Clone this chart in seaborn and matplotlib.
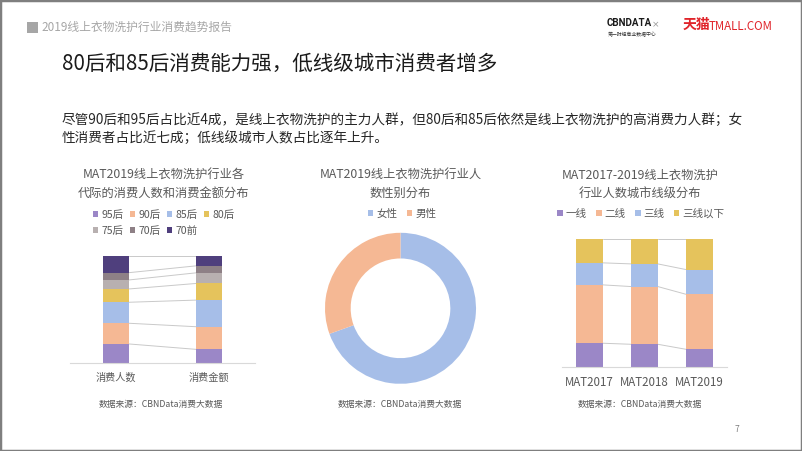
import matplotlib
matplotlib.use('Agg')
import matplotlib.pyplot as plt
import seaborn as sns
import numpy as np
import pandas as pd
from matplotlib.patches import Rectangle, Patch

sns.set_theme(style='white')
plt.rcParams['font.family'] = ['Noto Sans CJK SC', 'DejaVu Sans']

W, H = 802, 451

# ---------------- data ----------------
gen_labels = ['95后', '90后', '85后', '80后', '75后', '70后', '70前']
gen_cats = ['消费人数', '消费金额']
gen_people = [18.0, 19.3, 19.6, 12.4, 8.4, 6.8, 15.5]
gen_amount = [13.0, 21.1, 24.8, 15.5, 9.9, 6.5, 9.2]
gen_colors = ['#9B87C7', '#F5B894', '#A6BEE8', '#E5C35C', '#B8B0B0', '#8E8086', '#4F3F7D']

gender_labels = ['女性', '男性']
gender_values = [69.5, 30.5]
gender_colors = ['#A6BEE8', '#F5B894']

tier_labels = ['一线', '二线', '三线', '三线以下']
tier_cats = ['MAT2017', 'MAT2018', 'MAT2019']
tier_2017 = [18.8, 45.6, 17.2, 18.4]
tier_2018 = [18.0, 45.1, 17.7, 19.2]
tier_2019 = [14.1, 43.0, 19.3, 23.6]
tier_colors = ['#9B87C7', '#F5B894', '#A6BEE8', '#E5C35C']

title_text = '80后和85后消费能力强，低线级城市消费者增多'
header_text = '2019线上衣物洗护行业消费趋势报告'
body_lines = ['尽管90后和95后占比近4成，是线上衣物洗护的主力人群，但80后和85后依然是线上衣物洗护的高消费力人群；女',
              '性消费者占比近七成；低线级城市人数占比逐年上升。']
source_text = '数据来源：CBNData消费大数据'

GRAY = '#595959'

fig = plt.figure(figsize=(W / 100, H / 100), dpi=100)
fig.patch.set_facecolor('white')


def px_axes(x0, y0, x1, y1):
    return fig.add_axes([x0 / W, 1 - y1 / H, (x1 - x0) / W, (y1 - y0) / H])


def ftext(x, y, s, **kw):
    kw.setdefault('va', 'center')
    return fig.text(x / W, 1 - y / H, s, **kw)


def stacked(ax, cats, rows, colors, width):
    arr = np.array(rows, dtype=float)
    cum = np.cumsum(arr, axis=1)
    for k in range(arr.shape[1] - 1, -1, -1):
        df = pd.DataFrame({'cat': cats, 'v': cum[:, k]})
        sns.barplot(data=df, x='cat', y='v', order=cats, color=colors[k], width=width,
                    saturation=1, errorbar=None, linewidth=0, ax=ax, zorder=2)
    for k in range(arr.shape[1]):
        for i in range(len(cats) - 1):
            ax.plot([i + width / 2, i + 1 - width / 2], [cum[i, k], cum[i + 1, k]],
                    color='#c9c9c9', lw=0.7, zorder=1)
    ax.set_ylim(0, 100)
    ax.set_xlim(-0.5, len(cats) - 0.5)
    ax.set_xlabel('')
    ax.set_ylabel('')
    ax.set_yticks([])
    for s in ['top', 'right', 'left']:
        ax.spines[s].set_visible(False)
    ax.spines['bottom'].set_color('#d9d9d9')
    ax.spines['bottom'].set_linewidth(0.8)
    ax.set_facecolor('none')


# ---------------- frame & header ----------------
fig.patches.append(Rectangle((0, 0), 1, 1, transform=fig.transFigure, fill=False,
                             edgecolor='#7f7f7f', lw=2.5, zorder=10))
fig.patches.append(Rectangle((27 / W, 1 - 33 / H), 11 / W, 11 / H, transform=fig.transFigure,
                             facecolor='#a6a6a6', edgecolor='none'))
ftext(41.5, 27.5, header_text, fontsize=8.5, color='#a6a6a6', ha='left')

# logo
ftext(607, 23.5, 'CBNDATA', fontsize=7, fontweight='bold', color='#1a1a1a', ha='left',
      family=['Roboto', 'DejaVu Sans'])
ftext(608, 34.5, '第一财经商业数据中心', fontsize=3.5, color='#333333', ha='left')
ftext(656, 25, '×', fontsize=6.5, color='#9a9a9a', ha='center', family=['DejaVu Sans'])
ftext(683, 24.5, '天猫', fontsize=10, fontweight='bold', color='#E0242A', ha='left')
ftext(709, 26, 'TMALL.COM', fontsize=8.3, color='#E0242A', ha='left')

# title & body
ftext(62, 64, title_text, fontsize=14.8, color='#1a1a1a', ha='left')
ftext(62, 120, body_lines[0], fontsize=9.8, color='#262626', ha='left')
ftext(62, 137.7, body_lines[1], fontsize=9.8, color='#262626', ha='left')

# ---------------- chart 1: generations ----------------
ax1 = px_axes(70, 256, 255.2, 363.3)
stacked(ax1, gen_cats, [gen_people, gen_amount], gen_colors, 0.28)
ax1.tick_params(axis='x', length=0, labelsize=7.3, colors=GRAY, pad=7)

ftext(163.5, 174, 'MAT2019线上衣物洗护行业各', fontsize=8.8, color=GRAY, ha='center')
ftext(163.5, 193, '代际的消费人数和消费金额分布', fontsize=8.8, color=GRAY, ha='center')

order = [0, 4, 1, 5, 2, 6, 3]
h1 = [Patch(facecolor=gen_colors[i], edgecolor='none') for i in order]
l1 = [gen_labels[i] for i in order]
fig.legend(h1, l1, ncol=4, loc='center', bbox_to_anchor=(163.5 / W, 1 - 223 / H), frameon=False,
           fontsize=7.6, labelcolor=GRAY, handlelength=0.5, handleheight=0.5, handletextpad=0.3,
           columnspacing=0.6, labelspacing=0.6, borderpad=0)
ftext(161, 405, source_text, fontsize=6.3, color=GRAY, ha='center')

# ---------------- chart 2: gender donut ----------------
ax2 = px_axes(325, 232.8, 476, 383.8)
wedges, _ = ax2.pie(gender_values, colors=gender_colors, startangle=90, counterclock=False,
                    wedgeprops=dict(width=0.34, linewidth=0))
ax2.set_xlim(-1, 1)
ax2.set_ylim(-1, 1)
ax2.set_aspect('equal')
ax2.axis('off')
ftext(400.5, 174, 'MAT2019线上衣物洗护行业人', fontsize=8.8, color=GRAY, ha='center')
ftext(400.5, 193, '数性别分布', fontsize=8.8, color=GRAY, ha='center')
fig.legend(wedges, gender_labels, ncol=2, loc='center', bbox_to_anchor=(402 / W, 1 - 214 / H),
           frameon=False, fontsize=7.6, labelcolor=GRAY, handlelength=0.5, handleheight=0.5,
           handletextpad=0.3, columnspacing=0.9, borderpad=0)
ftext(400, 405, source_text, fontsize=6.3, color=GRAY, ha='center')

# ---------------- chart 3: city tiers ----------------
ax3 = px_axes(561.7, 239.3, 726.7, 367.3)
stacked(ax3, tier_cats, [tier_2017, tier_2018, tier_2019], tier_colors, 0.49)
ax3.tick_params(axis='x', length=0, labelsize=8.3, colors=GRAY, pad=6)
ftext(640, 175, 'MAT2017-2019线上衣物洗护', fontsize=8.8, color=GRAY, ha='center')
ftext(640, 193, '行业人数城市线级分布', fontsize=8.8, color=GRAY, ha='center')
h3 = [Patch(facecolor=c, edgecolor='none') for c in tier_colors]
fig.legend(h3, tier_labels, ncol=4, loc='center', bbox_to_anchor=(641 / W, 1 - 214 / H),
           frameon=False, fontsize=7.6, labelcolor=GRAY, handlelength=0.5, handleheight=0.5,
           handletextpad=0.3, columnspacing=0.9, borderpad=0)
ftext(640, 405, source_text, fontsize=6.3, color=GRAY, ha='center')

# page number
ftext(737, 429, '7', fontsize=6, color='#7f7f7f', ha='center')

fig.savefig('out.png', dpi=100, facecolor='white')
